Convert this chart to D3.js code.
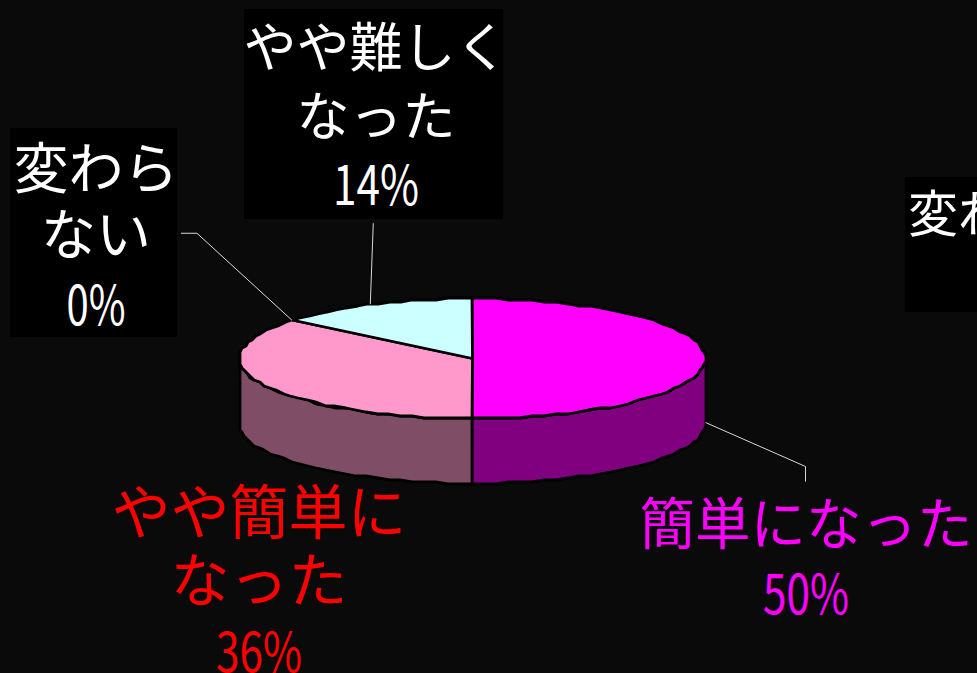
<!DOCTYPE html>
<html lang="ja">
<head>
<meta charset="utf-8">
<script src="https://cdn.jsdelivr.net/npm/d3@7"></script>
<style>
html,body{margin:0;padding:0;background:#0a0a0a;overflow:hidden}
svg{display:block}
text{font-family:"Noto Sans CJK JP",sans-serif;text-anchor:middle}
</style>
</head>
<body>
<svg id="chart" width="977" height="673"></svg>
<script>
// Survey answers, clockwise from twelve o'clock
const categories = ["簡単になった", "やや簡単になった", "変わらない", "やや難しくなった"];
const percents = [50, 36, 0, 14];
const topColors = ["#ff00ff", "#ff99cc", "#ffff99", "#ccffff"];
const sideColors = ["#800080", "#804d66", "#80804d", "#668080"];
const textColors = ["#ff00ff", "#ff0000", "#ffffff", "#ffffff"];
const labelLines = [["簡単になった"], ["やや簡単に", "なった"], ["変わら", "ない"], ["やや難しく", "なった"]];

const cx = 472.5, cy = 358.5, rx = 233, ry = 60, depth = 65;

const svg = d3.select("#chart");

// Oblique projection of the unit disc onto the page
const px = d3.scaleLinear().domain([-1, 1]).range([cx - rx, cx + rx]);
const py = d3.scaleLinear().domain([-1, 1]).range([cy - ry, cy + ry]);
const edge = (a, drop = 0) => [px(Math.sin(a)), py(-Math.cos(a)) + drop];

// The rim is a polyline snapped to a small pixel grid for its stepped look
function rim(a0, a1, drop = 0) {
  const n = Math.max(1, Math.round((a1 - a0) / (Math.PI / 60)));
  return d3.range(n + 1).map(i => {
    const [x, y] = edge(a0 + (a1 - a0) * i / n, drop);
    return [Math.round(x / 2) * 2, Math.round(y / 2) * 2];
  });
}
const line = d3.line();

const pie = d3.pie().sort(null).value(d => d.value);
const slices = pie(categories.map((name, i) => ({name, value: percents[i], i})));

// Panels behind the labels
const panels = [
  {x: 10, y: 128, w: 167, h: 209},
  {x: 244, y: 9, w: 259, h: 210},
  {x: 905, y: 177, w: 260, h: 135}
];
svg.selectAll("rect.panel").data(panels)
  .join("rect").attr("class", "panel")
  .attr("x", d => d.x).attr("y", d => d.y).attr("width", d => d.w).attr("height", d => d.h)
  .attr("fill", "#000");

// Side wall: only the part of each slice facing the viewer
slices.forEach(s => {
  const a0 = Math.max(s.startAngle, Math.PI / 2), a1 = Math.min(s.endAngle, Math.PI * 1.5);
  if (a1 <= a0) return;
  const pts = rim(a0, a1).concat(rim(a0, a1, depth).reverse());
  svg.append("path").attr("d", line(pts) + "Z")
    .attr("fill", sideColors[s.data.i]).attr("stroke", "#000")
    .attr("stroke-width", 2.8).attr("stroke-linejoin", "miter");
});

// Top face
slices.forEach(s => {
  if (s.endAngle <= s.startAngle) return;
  const pts = [[cx, cy]].concat(rim(s.startAngle, s.endAngle));
  svg.append("path").attr("d", line(pts) + "Z")
    .attr("fill", topColors[s.data.i]).attr("stroke", "#000")
    .attr("stroke-width", 2.8).attr("stroke-linejoin", "round");
});

// Leader lines run from the middle of each slice's rim out to its label
const mid = s => (s.startAngle + s.endAngle) / 2;
const leaders = [
  {i: 0, nudge: 0, drop: depth - 1, bends: [[100, 44], [100, 59]]},
  {i: 2, nudge: -1, drop: 0, bends: [[-95, -87], [-111, -87]]},
  {i: 3, nudge: -3, drop: 0, bends: [[3, -81]]}
];
svg.selectAll("path.leader").data(leaders).join("path").attr("class", "leader")
  .attr("d", d => {
    const e = edge(mid(slices[d.i]), d.drop);
    const p = [e[0] + d.nudge, e[1]];
    return line([p].concat(d.bends.map(b => [p[0] + b[0], p[1] + b[1]])));
  })
  .attr("fill", "none").attr("stroke", "#d8d8d8").attr("stroke-width", 1);

// Labels: category lines followed by the percentage
const labels = [
  {i: 0, x: 806, size: 55.5, lineY: [544, 614]},
  {i: 1, x: 259, size: 59, lineY: [534, 602, 672]},
  {i: 2, x: 96, size: 55, lineY: [188, 254, 325]},
  {i: 3, x: 376, size: 53, lineY: [67, 136, 205]}
];
labels.forEach(l => {
  const rows = labelLines[l.i];
  const g = svg.append("g").attr("fill", textColors[l.i]);
  rows.forEach((r, k) => {
    g.append("text").attr("x", l.x).attr("y", l.lineY[k])
      .attr("font-size", l.size).text(r);
  });
  const pct = g.append("text").attr("x", l.x).attr("y", l.lineY[rows.length])
    .attr("font-size", 54).text(percents[l.i] + "%");
  // Percent rows are set narrow, half-width style
  pct.attr("textLength", String(percents[l.i]).length === 2 ? 86 : 59)
     .attr("lengthAdjust", "spacingAndGlyphs");
});

// Second copy of the unchanged label, running off the right-hand side
svg.append("text").attr("x", 1033).attr("y", 232).attr("font-size", 50).attr("fill", "#fff").text(categories[2]);
</script>
</body>
</html>
